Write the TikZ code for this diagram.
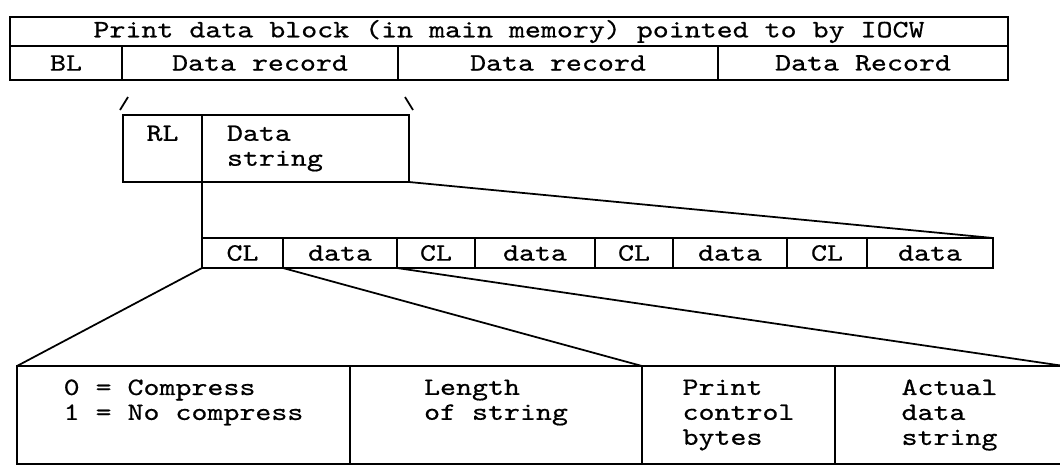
\documentclass[tikz,border=0pt]{standalone}
\usepackage{fontspec}
\setmonofont[FakeStretch=1.22, FakeBold=0.6]{lmmono10-regular.otf}
\usepackage{tikz}
\newlength\pxu
\setlength\pxu{0.02cm}

\begin{document}
\begin{tikzpicture}[x=0.02cm, y=-0.02cm, line width=1pt, font=\ttfamily\fontsize{14.2}{14.2}\selectfont]
    % Define the style for the cells
    \tikzstyle{cell} = [draw, anchor=north west, inner sep=0pt, outer sep=0pt, align=center]
    \useasboundingbox (0,0) rectangle (1060,468);

    % Print data block in main memory
    \node[cell, minimum width=998*\pxu, minimum height=29*\pxu] (block) at (10,17) {Print data block (in main memory) pointed to by IOCW};
    \node[cell, minimum width=112*\pxu, minimum height=34*\pxu] (bl) at (block.south west) {BL};
    \node[cell, minimum width=276*\pxu, minimum height=34*\pxu] (rec1) at (bl.north east) {Data record};
    \node[cell, minimum width=320*\pxu, minimum height=34*\pxu] (rec2) at (rec1.north east) {Data record};
    \node[cell, minimum width=290*\pxu, minimum height=34*\pxu] (rec3) at (rec2.north east) {Data Record};

    % Marks under the first data record
    \draw (rec1.south west) ++(6,17) -- ++(-8,13);
    \draw (rec1.south east) ++(7,17) -- ++(8,13);

    % Data record
    \node[cell, minimum width=79*\pxu, minimum height=67*\pxu] (rl) at (123,115) {RL\\\phantom{g}};
    \node[cell, minimum width=207*\pxu, minimum height=67*\pxu, inner xsep=25*\pxu, text width=157*\pxu, align=left] (dstr) at (rl.north east) {Data\\string};

    % Data string made of strings
    \node[cell, minimum width=81*\pxu, minimum height=30*\pxu] (cl1) at (202,238) {CL};
    \node[cell, minimum width=114*\pxu, minimum height=30*\pxu] (d1) at (cl1.north east) {data};
    \node[cell, minimum width=78*\pxu, minimum height=30*\pxu] (cl2) at (d1.north east) {CL};
    \node[cell, minimum width=120*\pxu, minimum height=30*\pxu] (d2) at (cl2.north east) {data};
    \node[cell, minimum width=78*\pxu, minimum height=30*\pxu] (cl3) at (d2.north east) {CL};
    \node[cell, minimum width=114*\pxu, minimum height=30*\pxu] (d3) at (cl3.north east) {data};
    \node[cell, minimum width=80*\pxu, minimum height=30*\pxu] (cl4) at (d3.north east) {CL};
    \node[cell, minimum width=126*\pxu, minimum height=30*\pxu] (d4) at (cl4.north east) {data};

    \draw (rl.south east) -- (cl1.north west);
    \draw (dstr.south east) -- (d4.north east);

    % One string in detail
    \node[cell, minimum width=333*\pxu, minimum height=98*\pxu, align=left] (cflag) at (17,366) {0 = Compress\\1 = No compress\\\phantom{g}};
    \node[cell, minimum width=292*\pxu, minimum height=98*\pxu, align=left] (slen) at (cflag.north east) {Length\\of string\\\phantom{g}};
    \node[cell, minimum width=193*\pxu, minimum height=98*\pxu, align=left] (pctl) at (slen.north east) {Print\\control\\bytes};
    \node[cell, minimum width=229*\pxu, minimum height=98*\pxu, align=left] (adata) at (pctl.north east) {Actual\\data\\string};

    \draw (cl1.south west) -- (cflag.north west);
    \draw (cl1.south east) -- (pctl.north west);
    \draw (d1.south east) -- (adata.north east);
\end{tikzpicture}
\end{document}
